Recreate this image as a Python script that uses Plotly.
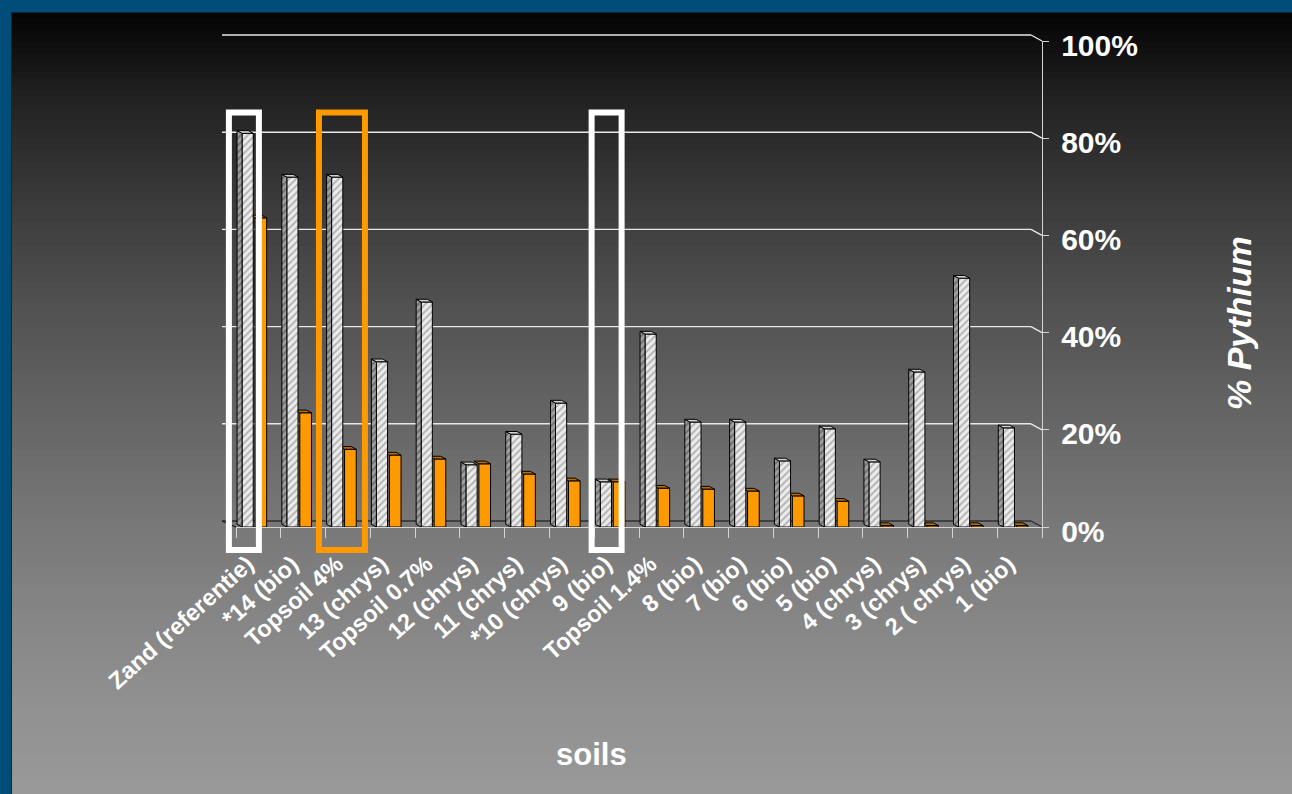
import plotly.graph_objects as go

# ---- data -------------------------------------------------------------
soils = ["Zand (referentie)", "*14 (bio)", "Topsoil 4%", "13 (chrys)",
         "Topsoil 0.7%", "12 (chrys)", "11 (chrys)", "*10 (chrys)", "9 (bio)",
         "Topsoil 1.4%", "8 (bio)", "7 (bio)", "6 (bio)", "5 (bio)",
         "4 (chrys)", "3 (chrys)", "2 ( chrys)", "1 (bio)"]
series_1 = [81, 72, 72, 34, 46.3, 12.8, 19.1, 25.5, 9.3, 39.7,
            21.6, 21.6, 13.6, 20.2, 13.4, 31.9, 51.2, 20.4]
series_2 = [63.6, 23.5, 16, 14.8, 14, 13, 10.9, 9.5, 9.3, 8,
            7.8, 7.4, 6.4, 5.3, 0.3, 0.3, 0.3, 0.3]
y_ticks = [0, 20, 40, 60, 80, 100]
y_tick_labels = [f"{v}%" for v in y_ticks]
highlight_white = ["Zand (referentie)", "9 (bio)"]
highlight_orange = ["Topsoil 4%"]

# ---- page geometry (pixels) -------------------------------------------
W, H = 1292, 794
L, R, T, B = 236, 1042, 41, 527          # plot area
PW, PH = R - L, B - T


def px(x):
    return (x - L) / PW


def py(y):
    return (B - y) / PH


idx = list(range(len(soils)))
ORANGE = "#FF9900"

# bar geometry in axis units
G_OFF, G_W = -0.365, 0.25
O_OFF, O_W = -0.075, 0.26
DX = 5 / (PW / len(soils))      # depth shift to the left
DY = 2.7 / (PH / 100)           # depth shift upwards

fig = go.Figure()

# front faces
fig.add_trace(go.Bar(
    x=idx, y=series_1, offset=G_OFF, width=G_W, name="series 1",
    marker=dict(color="#e4e4e4", line=dict(color="black", width=1),
                pattern=dict(shape="/", fgcolor="#7a7a7a", bgcolor="#ececec",
                             size=5, solidity=0.4)),
    showlegend=False, hoverinfo="skip"))
fig.add_trace(go.Bar(
    x=idx, y=series_2, offset=O_OFF, width=O_W, name="series 2",
    marker=dict(color=ORANGE, line=dict(color="black", width=1)),
    showlegend=False, hoverinfo="skip"))

# side faces of hatched columns
sx, sy = [], []
for i, v in zip(idx, series_1):
    xl = i + G_OFF
    sx += [xl - DX, xl - DX, xl, xl, xl - DX, None]
    sy += [DY, v + DY, v, 0, DY, None]
fig.add_trace(go.Scatter(
    x=sx, y=sy, mode="lines", fill="toself", line=dict(color="black", width=1),
    fillcolor="#8c8c8c",
    fillpattern=dict(shape="/", fgcolor="#3c3c3c", bgcolor="#a0a0a0",
                     size=5, solidity=0.4),
    showlegend=False, hoverinfo="skip"))

# top caps of hatched columns
cx, cy = [], []
for i, v in zip(idx, series_1):
    xl, xr = i + G_OFF, i + G_OFF + G_W
    cx += [xl, xr, xr - DX, xl - DX, xl, None]
    cy += [v, v, v + DY, v + DY, v, None]
fig.add_trace(go.Scatter(
    x=cx, y=cy, mode="lines", fill="toself", line=dict(color="black", width=1),
    fillcolor="#d2d2d2", showlegend=False, hoverinfo="skip"))

# top caps of orange columns (hidden part behind taller hatched column cut off)
ox, oy = [], []
for i, v, g in zip(idx, series_2, series_1):
    xl, xr = i + O_OFF, i + O_OFF + O_W
    gr = i + G_OFF + G_W
    if g > v and xl - DX < gr:
        f = (xl - gr) / DX
        ox += [xl, xr, xr - DX, gr, gr, xl, None]
        oy += [v, v, v + DY, v + DY, v + f * DY, v, None]
    else:
        ox += [xl, xr, xr - DX, xl - DX, xl, None]
        oy += [v, v, v + DY, v + DY, v, None]
fig.add_trace(go.Scatter(
    x=ox, y=oy, mode="lines", fill="toself", line=dict(color="black", width=1),
    fillcolor="#b86e00", showlegend=False, hoverinfo="skip"))

shapes = []

# background: vertical grey gradient
stops = [(12, 4), (100, 34), (200, 58), (300, 80), (400, 98),
         (500, 116), (600, 131), (700, 144), (794, 153)]


def grey_at(y):
    for (y0, c0), (y1, c1) in zip(stops[:-1], stops[1:]):
        if y0 <= y <= y1:
            return c0 + (c1 - c0) * (y - y0) / (y1 - y0)
    return stops[-1][1]


band = 6
y = 12
while y < H:
    c = int(round(grey_at(y + band / 2)))
    shapes.append(dict(type="rect", xref="paper", yref="paper", layer="below",
                       x0=px(0), x1=px(W), y0=py(y), y1=py(min(y + band, H) + 0.5),
                       fillcolor=f"rgb({c},{c},{c})", line=dict(width=0)))
    y += band

# slide frame (top and left)
BLUE = "#014d7a"
shapes.append(dict(type="rect", xref="paper", yref="paper", layer="below",
                   x0=px(0), x1=px(W), y0=py(0), y1=py(12),
                   fillcolor=BLUE, line=dict(width=0)))
shapes.append(dict(type="rect", xref="paper", yref="paper", layer="below",
                   x0=px(0), x1=px(11), y0=py(0), y1=py(H),
                   fillcolor=BLUE, line=dict(width=0)))
shapes.append(dict(type="line", xref="paper", yref="paper", layer="below",
                   x0=px(11), x1=px(W), y0=py(12.5), y1=py(12.5),
                   line=dict(color="#02263c", width=1)))
shapes.append(dict(type="line", xref="paper", yref="paper", layer="below",
                   x0=px(11.5), x1=px(11.5), y0=py(12), y1=py(H),
                   line=dict(color="#02263c", width=1)))

# back-wall gridlines with their perspective return to the value axis
BACK_DX, BACK_DY = 14, 6
for v in y_ticks:
    yb = v / 100 + BACK_DY / PH
    col = "#2e2e2e" if v == 0 else "#e8e8e8"
    shapes.append(dict(type="line", xref="paper", yref="paper", layer="below",
                       x0=-BACK_DX / PW, x1=1 - 11 / PW, y0=yb, y1=yb,
                       line=dict(color=col, width=1.4)))
    shapes.append(dict(type="line", xref="paper", yref="paper", layer="below",
                       x0=1 - 11 / PW, x1=1, y0=yb, y1=v / 100,
                       line=dict(color=col, width=1.4)))
# floor left edge
shapes.append(dict(type="line", xref="paper", yref="paper", layer="below",
                   x0=-BACK_DX / PW, x1=0, y0=BACK_DY / PH, y1=0,
                   line=dict(color="#1a1a1a", width=1.3)))

# highlight frames around selected soils
def frame(name, color, half_left, half_right):
    c = L + (soils.index(name) + 0.5) * PW / len(soils)
    return dict(type="rect", xref="paper", yref="paper", layer="above",
                x0=px(c - half_left), x1=px(c + half_right),
                y0=py(550), y1=py(112.5),
                line=dict(color=color, width=6), fillcolor="rgba(0,0,0,0)")


shapes.append(frame(highlight_white[0], "white", 29.5, 0.5))
shapes.append(frame(highlight_white[1], "white", 25, 5))
shapes.append(frame(highlight_orange[0], ORANGE, 29, 17))

FONT = "Arial, Liberation Sans, sans-serif"

fig.update_layout(
    width=W, height=H,
    margin=dict(l=L, r=W - R, t=T, b=H - B, pad=0),
    paper_bgcolor="#989898",
    plot_bgcolor="rgba(0,0,0,0)",
    barmode="overlay",
    showlegend=False,
    shapes=shapes,
    font=dict(family=FONT, color="white"),
    xaxis=dict(
        range=[-0.5, len(soils) - 0.5], tickmode="array", tickvals=idx,
        ticktext=soils, tickangle=-42, showgrid=False, zeroline=False,
        showline=True, linecolor="#d4d4d4", linewidth=1.3, ticks="",
        ticklabelstandoff=13, ticklabelshift=-11,
        tickfont=dict(family=FONT, size=23.5, color="white", weight="bold"),
        minor=dict(tickmode="array", tickvals=[i - 0.5 for i in range(len(soils) + 1)],
                   ticks="outside", ticklen=10, tickcolor="#d4d4d4", tickwidth=1.3),
        automargin=False, fixedrange=True),
    yaxis=dict(
        range=[0, 100], side="right", tickmode="array", tickvals=y_ticks,
        ticktext=y_tick_labels, showgrid=False, zeroline=False, showline=True,
        linecolor="#d4d4d4", linewidth=1.3, ticks="outside", ticklen=6,
        tickcolor="#d4d4d4", tickwidth=1.3, ticklabelstandoff=6,
        ticklabelshift=4,
        tickfont=dict(family=FONT, size=30, color="white", weight="bold"),
        automargin=False, fixedrange=True),
    annotations=[
        dict(text="<b>soils</b>", xref="paper", yref="paper",
             x=px(591), y=py(755), xanchor="center", yanchor="middle",
             showarrow=False, font=dict(family=FONT, size=31, color="white")),
        dict(text="<b><i>% Pythium</i></b>", xref="paper", yref="paper",
             x=px(1239), y=py(323), xanchor="center", yanchor="middle",
             showarrow=False, textangle=-90,
             font=dict(family=FONT, size=34, color="white")),
    ],
)

fig.write_html("out.html")
